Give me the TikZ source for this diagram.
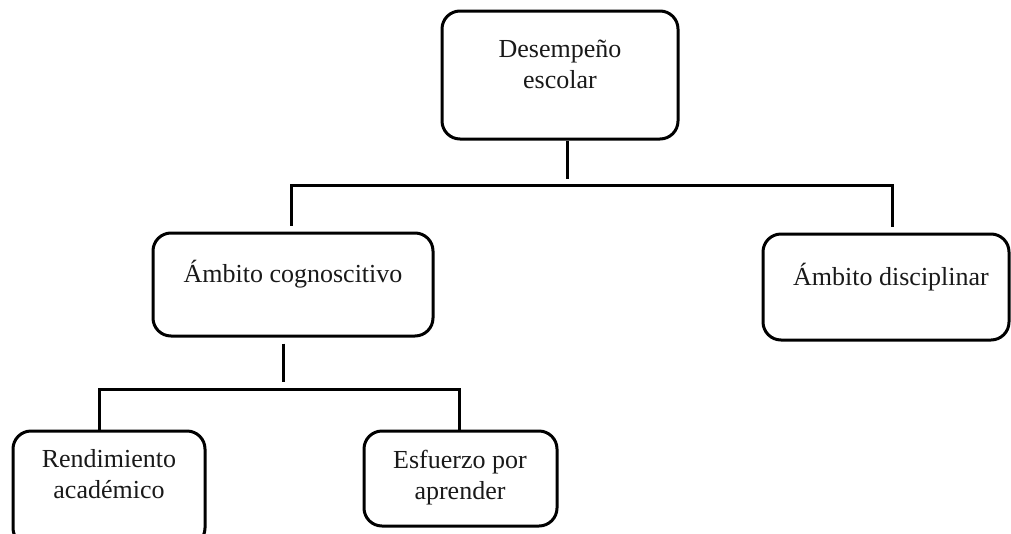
\documentclass[tikz,border=0pt]{standalone}
\usepackage{fontspec}
\setmainfont{Liberation Serif}
\begin{document}
\begin{tikzpicture}[x=1pt,y=-1pt,
  box/.style={draw, line width=3pt, rounded corners=18pt, inner sep=0pt},
  txt/.style={font=\fontsize{26}{30.5}\selectfont, align=center, anchor=base, inner sep=0pt, text=black!90},
  conn/.style={line width=3pt, line join=miter}]
\useasboundingbox (0,0) rectangle (1011,533);
\clip (0,0) rectangle (1011,533);

% boxes
\node[box, minimum width=236pt, minimum height=128pt] (top)  at (560,75)    {};
\node[box, minimum width=280pt, minimum height=103pt] (cogn) at (293,284.5) {};
\node[box, minimum width=246pt, minimum height=106pt] (disc) at (886,287)   {};
\node[box, minimum width=192pt, minimum height=115pt] (rend) at (109,488.5) {};
\node[box, minimum width=193pt, minimum height=95pt]  (esf)  at (460.5,478.5) {};

% labels (a multi-line label is anchored on the baseline of its last line)
\node[txt] (topT)  at (560,88)  {Desempeño\\escolar};
\node[txt] (cognT) at (293,282) {Ámbito cognoscitivo};
\node[txt] (discT) at (891,285) {Ámbito disciplinar};
\node[txt] (rendT) at (109,498) {Rendimiento\\académico};
\node[txt] (esfT)  at (460,499) {Esfuerzo por\\aprender};

% first level branching
\coordinate (j1)    at (567,185);
\coordinate (bar1L) at (291,185);
\coordinate (bar1R) at (892,185);
\draw[conn] (top.south -| j1) -- ([yshift=6pt]j1);
\draw[conn] ([yshift=6pt]cogn.north -| bar1L) -- (bar1L) -- (bar1R) -- ([yshift=6pt]disc.north -| bar1R);

% second level branching
\coordinate (j2)    at (283,389);
\coordinate (bar2L) at (99,389);
\coordinate (bar2R) at (459,389);
\draw[conn] ([yshift=-6pt]cogn.south -| j2) -- ([yshift=7pt]j2);
\draw[conn] (rend.north -| bar2L) -- (bar2L) -- (bar2R) -- (esf.north -| bar2R);
\end{tikzpicture}
\end{document}
